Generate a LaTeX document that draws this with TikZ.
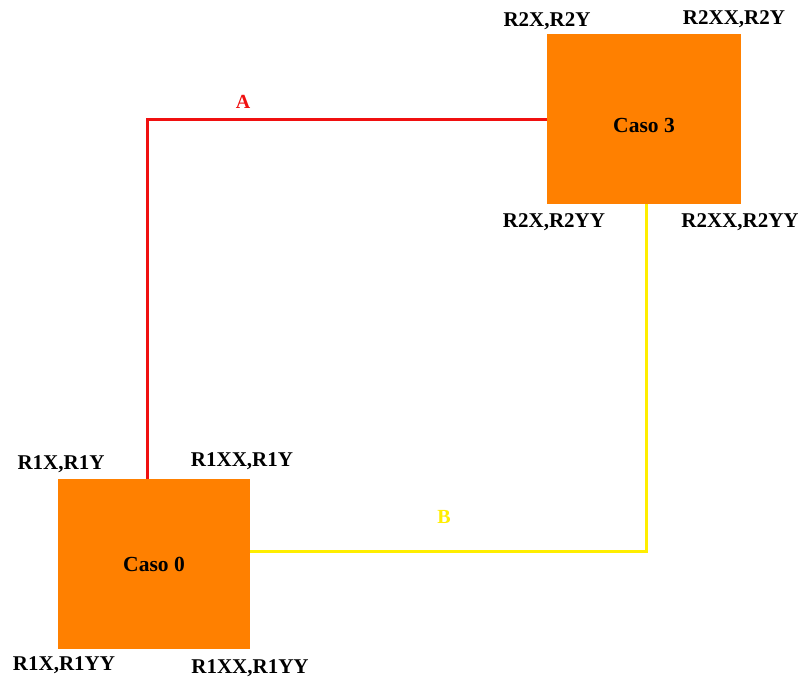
\documentclass[tikz,border=0pt]{standalone}
\usepackage{fontspec}
\setmainfont{Liberation Serif}
\definecolor{boxorange}{HTML}{FF8000}
\definecolor{linkred}{HTML}{F01010}
\definecolor{linkyellow}{HTML}{FFEE00}
\begin{document}
\begin{tikzpicture}[x=1pt,y=-1pt,
  caso/.style={fill=boxorange,draw=none,minimum width=194pt,minimum height=170pt,inner sep=0pt,font=\fontsize{21.5}{24}\selectfont\bfseries},
  corner/.style={font=\fontsize{21}{24}\selectfont\bfseries,inner sep=0pt},
  redlink/.style={draw=linkred,line width=3pt},
  yellowlink/.style={draw=linkyellow,line width=3pt},
  linklabel/.style={font=\fontsize{20}{24}\selectfont\bfseries,inner sep=0pt}]
\useasboundingbox[fill=white] (0,0) rectangle (803,681);

% the two boxes (the title of the upper one sits a little below its centre)
\node[caso,label={[font=\fontsize{21.5}{24}\selectfont\bfseries,yshift=-6pt]center:Caso 3}] (c3) at (644,119) {};
\node[caso,minimum width=192pt] (c0) at (154,564) {Caso 0};

% corner labels of Caso 3
\node[corner] (r2a) at (547,21) {R2X,R2Y};
\node[corner] (r2b) at (734,19) {R2XX,R2Y};
\node[corner] (r2c) at (554,222) {R2X,R2YY};
\node[corner] (r2d) at (740,222) {R2XX,R2YY};

% corner labels of Caso 0
\node[corner] (r1a) at (61,464) {R1X,R1Y};
\node[corner] (r1b) at (242,461) {R1XX,R1Y};
\node[corner] (r1c) at (64,665) {R1X,R1YY};
\node[corner] (r1d) at (250,668) {R1XX,R1YY};

% link A
\coordinate (cA) at (147,119);
\draw[redlink,line join=miter] (c3.west) -- (cA) -- (cA |- c0.north);
\node[linklabel,text=linkred] (lA) at (243,102) {A};

% link B
\coordinate (cB) at (646,551);
\draw[yellowlink,line join=miter] (c0.east |- cB) -- (cB) -- (cB |- c3.south);
\node[linklabel,text=linkyellow] (lB) at (444,517) {B};
\end{tikzpicture}
\end{document}
